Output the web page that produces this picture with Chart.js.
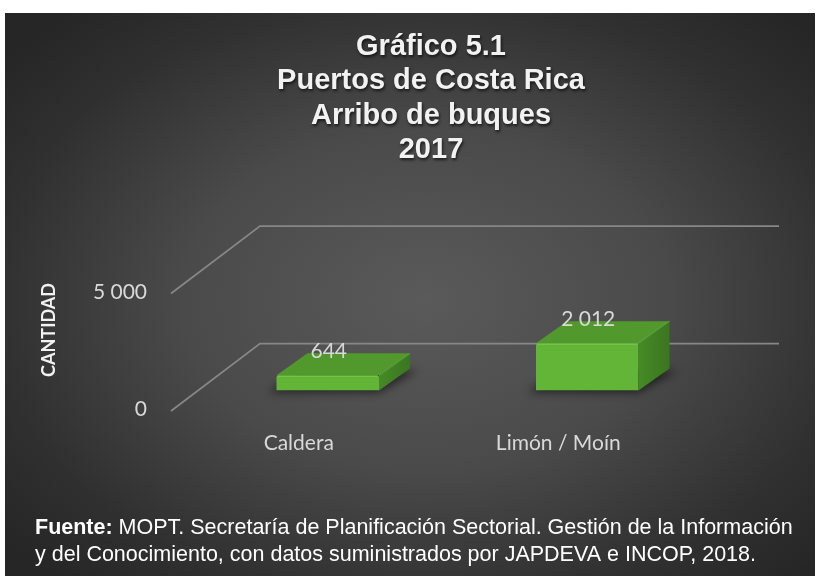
<!DOCTYPE html>
<html><head><meta charset="utf-8">
<script src="https://cdn.jsdelivr.net/npm/chart.js@4.4.1/dist/chart.umd.min.js"></script>
<style>html,body{margin:0;padding:0;background:#fff;}canvas{display:block}</style>
</head><body>
<canvas id="c" width="816" height="576"></canvas>
<script>
const categories = ['Caldera', 'Limón / Moín'];
const arrivals = [644, 2012];
const valueLabels = ['644', '2 012'];
const yTicks = [0, 5000];
const yTickLabels = ['0', '5 000'];
const titleLines = ['Gráfico 5.1', 'Puertos de Costa Rica', 'Arribo de buques', '2017'];
const axisTitle = 'CANTIDAD';
const sourceBold = 'Fuente:';
const sourceLine1 = ' MOPT. Secretaría de Planificación Sectorial. Gestión de la Información';
const sourceLine2 = 'y del Conocimiento, con datos suministrados por JAPDEVA e INCOP, 2018.';

// perspective offsets of the 3D floor / walls
const FLOOR = {frontDx: -27, frontDy: 20.5, backDx: 62, backDy: -47};
const BAR_DEPTH = {dx: 31, dy: -22};

const deco = {
  id: 'deco',
  beforeDraw(chart) {
    const ctx = chart.ctx;
    const W = chart.width, H = chart.height;
    ctx.save();
    ctx.fillStyle = '#ffffff';
    ctx.fillRect(0, 0, W, H);
    // elliptical radial gradient panel
    const px = 5, py = 13, pw = W - 6, ph = H - 13;
    const cx = 425, cy = 300, rx = 540, ry = 380;
    ctx.save();
    ctx.beginPath(); ctx.rect(px, py, pw, ph); ctx.clip();
    ctx.translate(cx, cy); ctx.scale(1, ry / rx);
    const g = ctx.createRadialGradient(0, 0, 0, 0, 0, rx);
    g.addColorStop(0, '#5a5a5a');
    g.addColorStop(0.45, '#4a4a4a');
    g.addColorStop(0.8, '#303030');
    g.addColorStop(1, '#262626');
    ctx.fillStyle = g;
    ctx.fillRect(-cx, -cy * rx / ry, W, H * rx / ry + 10);
    ctx.restore();

    // title
    ctx.save();
    ctx.font = 'bold 29px "Liberation Sans", Arial, sans-serif';
    ctx.textAlign = 'center'; ctx.textBaseline = 'middle';
    ctx.fillStyle = '#f2f2f2';
    ctx.shadowColor = 'rgba(0,0,0,0.65)'; ctx.shadowBlur = 3; ctx.shadowOffsetX = 1; ctx.shadowOffsetY = 2;
    titleLines.forEach((t, i) => ctx.fillText(t, 431, 47 + i * 34.4));
    ctx.restore();

    // gridlines (floor / back wall)
    const ys = chart.scales.y, area = chart.chartArea;
    ctx.strokeStyle = '#878787'; ctx.lineWidth = 1.75; ctx.lineCap = 'butt';
    yTicks.forEach(v => {
      const y = ys.getPixelForValue(v);
      ctx.beginPath();
      ctx.moveTo(area.left + FLOOR.frontDx, y + FLOOR.frontDy);
      ctx.lineTo(area.left + FLOOR.backDx, y + FLOOR.backDy);
      ctx.lineTo(area.right + FLOOR.backDx, y + FLOOR.backDy);
      ctx.stroke();
    });

    // y tick labels
    ctx.fillStyle = '#d9d9d9';
    ctx.font = '21px Lato, "Open Sans", sans-serif';
    ctx.textAlign = 'right'; ctx.textBaseline = 'middle';
    yTicks.forEach((v, i) => {
      ctx.fillText(yTickLabels[i], 147, ys.getPixelForValue(v) + FLOOR.frontDy - 1.5);
    });

    // x labels
    const xs = chart.scales.x;
    ctx.textAlign = 'center';
    categories.forEach((c, i) => {
      ctx.fillText(c, xs.getPixelForValue(i) - 29, ys.getPixelForValue(0) + 53);
    });

    // axis title
    ctx.save();
    ctx.translate(49, 330); ctx.rotate(-Math.PI / 2);
    ctx.font = 'bold 18px Lato, "Open Sans", sans-serif';
    ctx.fillStyle = '#f2f2f2';
    ctx.textAlign = 'center'; ctx.textBaseline = 'middle';
    ctx.fillText(axisTitle, 0, 0);
    ctx.restore();

    // source note
    ctx.fillStyle = '#ffffff';
    ctx.textAlign = 'left'; ctx.textBaseline = 'middle';
    ctx.font = 'bold 21.5px "Liberation Sans", Arial, sans-serif';
    ctx.fillText(sourceBold, 35, 528);
    const bw = ctx.measureText(sourceBold).width;
    ctx.font = '21.5px "Liberation Sans", Arial, sans-serif';
    ctx.fillText(sourceLine1, 35 + bw, 528);
    ctx.fillText(sourceLine2, 35, 555);
    ctx.restore();
  },
  beforeDatasetsDraw(chart) {
    const ctx = chart.ctx;
    const meta = chart.getDatasetMeta(0);
    ctx.save();
    ctx.filter = 'blur(4px)';
    ctx.fillStyle = 'rgba(0,0,0,0.55)';
    meta.data.forEach(bar => {
      const x1 = bar.x - bar.width / 2, x2 = bar.x + bar.width / 2, b = bar.base;
      ctx.beginPath();
      ctx.moveTo(x1 - 8, b + 2);
      ctx.lineTo(x2, b + 2);
      ctx.lineTo(x2 + BAR_DEPTH.dx + 8, b + BAR_DEPTH.dy + 2);
      ctx.lineTo(x1 + BAR_DEPTH.dx - 8, b + BAR_DEPTH.dy + 2);
      ctx.closePath(); ctx.fill();
    });
    ctx.restore();
  },
  afterDatasetsDraw(chart) {
    const ctx = chart.ctx;
    const meta = chart.getDatasetMeta(0);
    ctx.save();
    meta.data.forEach((bar, i) => {
      const x1 = bar.x - bar.width / 2, x2 = bar.x + bar.width / 2, y = bar.y, b = bar.base;
      const dx = BAR_DEPTH.dx, dy = BAR_DEPTH.dy;
      // top face
      ctx.beginPath();
      ctx.moveTo(x1, y); ctx.lineTo(x2, y); ctx.lineTo(x2 + dx, y + dy); ctx.lineTo(x1 + dx, y + dy); ctx.closePath();
      ctx.fillStyle = '#52992d'; ctx.fill();
      // side face
      const sg = ctx.createLinearGradient(x2, 0, x2 + dx, 0);
      sg.addColorStop(0, '#468a27'); sg.addColorStop(1, '#3a761f');
      ctx.beginPath();
      ctx.moveTo(x2, y); ctx.lineTo(x2 + dx, y + dy); ctx.lineTo(x2 + dx, b + dy); ctx.lineTo(x2, b); ctx.closePath();
      ctx.fillStyle = sg; ctx.fill();
      // bevel highlights
      ctx.strokeStyle = 'rgba(140,210,90,0.45)'; ctx.lineWidth = 1.5;
      ctx.beginPath(); ctx.moveTo(x1 + 1, y + 1); ctx.lineTo(x2 - 1, y + 1); ctx.stroke();
      ctx.strokeStyle = 'rgba(120,190,80,0.35)';
      ctx.beginPath(); ctx.moveTo(x2, y); ctx.lineTo(x2 + dx, y + dy); ctx.stroke();
      // value label
      ctx.fillStyle = '#d9d9d9';
      ctx.font = '21px Lato, "Open Sans", sans-serif';
      ctx.textAlign = 'center'; ctx.textBaseline = 'middle';
      ctx.fillText(valueLabels[i], bar.x + 1, y - 24);
    });
    ctx.restore();
  }
};

new Chart(document.getElementById('c'), {
  type: 'bar',
  data: {
    labels: categories,
    datasets: [{
      data: arrivals,
      backgroundColor: '#62b536',
      borderRadius: 2,
      barPercentage: 0.395,
      categoryPercentage: 1
    }]
  },
  options: {
    responsive: false,
    animation: false,
    devicePixelRatio: 1,
    layout: {padding: {left: 198, right: 99, top: 273, bottom: 185.5}},
    scales: {
      x: {display: false},
      y: {display: false, min: 0, max: 5000}
    },
    plugins: {legend: {display: false}, tooltip: {enabled: false}, title: {display: false}}
  },
  plugins: [deco]
});
</script>
</body></html>
